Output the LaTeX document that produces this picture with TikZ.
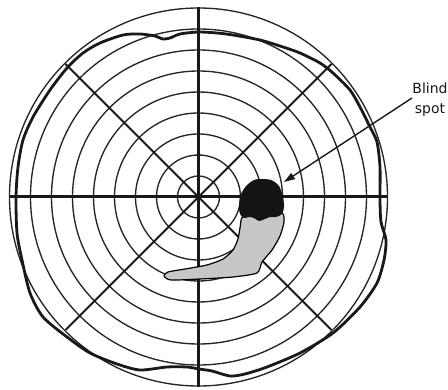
\documentclass[tikz,border=0pt]{standalone}
\usepackage{fontspec}
\newfontfamily\lblfont{DejaVu Sans}
\usetikzlibrary{arrows.meta,calc}
\begin{document}
\begin{tikzpicture}[x=1pt,y=-1pt,
  ring/.style={line width=1.35pt,black!85},
  axis/.style={line width=3pt,black!90},
  diag/.style={line width=2pt,black!90},
  isopter/.style={line width=2.8pt,black!90,line join=round},
  lbl/.style={font=\lblfont\fontsize{14}{20}\selectfont,align=center,inner sep=0pt,text=black!90}]
\useasboundingbox (0,0) rectangle (448,390);
\coordinate (c) at (198.5,197);
% concentric rings
\foreach \r in {21,42,63,84,105,126,147,168,189}
  \draw[ring] (c) circle[radius=\r pt];
% diagonals
\draw[diag] ($(c)+(-133,-133)$) -- ($(c)+(133,133)$);
\draw[diag] ($(c)+(133,-133)$) -- ($(c)+(-133,133)$);
% axes
\draw[axis] (10,197) -- (387,197);
\draw[axis] (198.5,7) -- (198.5,387);
% isopter
\draw[isopter] plot[smooth cycle,tension=0.45] coordinates {
 (198,32) (217,33) (233,35) (260,40) (283,47) (300,53) (320,63) (333,73)
 (350,90) (360,107) (370,127) (377,142) (380,167) (380,200) (381,222)
 (386,240) (384,260) (377,283) (360,307) (333,333) (300,353) (267,367)
 (245,374) (230,376) (212,371) (199,369) (187,367) (167,367) (140,370)
 (117,364) (90,353) (67,337) (43,317) (30,293) (22,260) (17,233) (16,197)
 (18,167) (23,140) (33,117) (50,90) (67,68) (83,53) (100,43) (123,35)
 (140,34) (155,36) (163,39) (170,38) (180,34)};
% gray region
\draw[line width=1.2pt,fill=black!22,line join=round] plot[smooth cycle,tension=0.4] coordinates {
 (243,216) (240,228) (238,239) (233,250) (223,259) (207,265) (185,269)
 (168,272) (164,276) (171,280) (200,279) (233,277) (257,273) (262,262)
 (272,250) (280,236) (284,222) (282,213) (262,212)};
% blind spot
\fill[black!92] plot[smooth cycle,tension=0.5] coordinates {
 (260,179) (271,180) (279,186) (283,197) (284,207) (282,214) (276,217)
 (270,217) (265,219) (259,221) (254,218) (249,217) (244,218) (240,214)
 (239,205) (241,194) (247,185) (254,180)};
% label and arrow
\node[lbl] (label) at (430,100) {Blind\\spot};
\coordinate (astart) at (412,98);
\coordinate (atip) at (284,182);
\draw[line width=1.4pt,black!90,-{Triangle[length=11pt,width=7pt]}] (astart) -- (atip);
\end{tikzpicture}
\end{document}
